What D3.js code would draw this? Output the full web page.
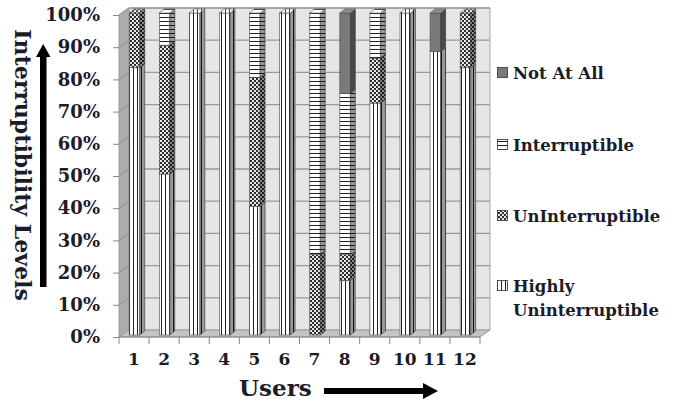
<!DOCTYPE html>
<meta charset="utf-8" />
<title>Interruptibility levels per user</title>
<style>
  body { margin: 0; background: #fff; }
  svg { display: block; }
  text { font-family: "DejaVu Serif", serif; font-weight: bold; fill: #1c1c28; }
</style>
<body>
<svg width="682" height="402"></svg>
<script src="https://d3js.org/d3.v7.min.js"></script>
<script>
  // chart data (percent of each user's responses)
  const users = ["1", "2", "3", "4", "5", "6", "7", "8", "9", "10", "11", "12"];
  const highlyUninterruptible = [83, 50, 100, 100, 40, 100, 0, 17, 72, 100, 88, 83];
  const unInterruptible = [17, 40, 0, 0, 40, 0, 25, 8, 14, 0, 0, 17];
  const interruptible = [0, 10, 0, 0, 20, 0, 75, 50, 14, 0, 0, 0];
  const notAtAll = [0, 0, 0, 0, 0, 0, 0, 25, 0, 0, 12, 0];
  const seriesNames = ["Highly Uninterruptible", "UnInterruptible", "Interruptible", "Not At All"];
  const yTicks = [0, 10, 20, 30, 40, 50, 60, 70, 80, 90, 100];

  const rows = users.map((u, i) => ({
    user: u,
    "Highly Uninterruptible": highlyUninterruptible[i],
    "UnInterruptible": unInterruptible[i],
    "Interruptible": interruptible[i],
    "Not At All": notAtAll[i]
  }));

  const svg = d3.select("svg");
  const defs = svg.append("defs");

  // fill patterns, one per series
  const pv = defs.append("pattern").attr("id", "p-hu").attr("patternUnits", "userSpaceOnUse")
    .attr("width", 4).attr("height", 4);
  pv.append("rect").attr("width", 4).attr("height", 4).attr("fill", "#fff");
  pv.append("rect").attr("x", 1).attr("width", 1).attr("height", 4).attr("fill", "#222");

  const pc = defs.append("pattern").attr("id", "p-un").attr("patternUnits", "userSpaceOnUse")
    .attr("width", 4).attr("height", 4);
  pc.append("rect").attr("width", 4).attr("height", 4).attr("fill", "#2e2e2e");
  pc.append("rect").attr("width", 2).attr("height", 2).attr("fill", "#e8e8e8");
  pc.append("rect").attr("x", 2).attr("y", 2).attr("width", 2).attr("height", 2).attr("fill", "#e8e8e8");

  const ph = defs.append("pattern").attr("id", "p-in").attr("patternUnits", "userSpaceOnUse")
    .attr("width", 4).attr("height", 4);
  ph.append("rect").attr("width", 4).attr("height", 4).attr("fill", "#fff");
  ph.append("rect").attr("y", 1).attr("width", 4).attr("height", 1).attr("fill", "#222");

  const fills = {
    "Highly Uninterruptible": "url(#p-hu)",
    "UnInterruptible": "url(#p-un)",
    "Interruptible": "url(#p-in)",
    "Not At All": "#7a7a7a"
  };

  // geometry of the pseudo 3D plot
  const x0 = 119, x1 = 480;
  const DX = 10, DY = -7;       // depth of walls / floor
  const BX = 5, BY = -4;        // depth of a bar

  const x = d3.scaleBand().domain(users).range([x0, x1]);
  const yFront = d3.scaleLinear().domain([0, 100]).range([337, 15]);
  const yBack = v => yFront(v) + DY;
  const yBar = v => yFront(v) - 2;

  const pts = p => p.map(d => d.join(",")).join(" ");

  // walls and floor
  svg.append("polygon")
    .attr("points", pts([[x0 + DX, yBack(0)], [x1 + DX, yBack(0)], [x1 + DX, yBack(100)], [x0 + DX, yBack(100)]]))
    .attr("fill", "#e6e6e6").attr("stroke", "#a6a6a6");
  svg.append("polygon")
    .attr("points", pts([[x0, yFront(0)], [x0 + DX, yBack(0)], [x0 + DX, yBack(100)], [x0, yFront(100)]]))
    .attr("fill", "#adadad").attr("stroke", "#9a9a9a");
  svg.append("polygon")
    .attr("points", pts([[x0, yFront(0)], [x1, yFront(0)], [x1 + DX, yBack(0)], [x0 + DX, yBack(0)]]))
    .attr("fill", "#c4c4c4").attr("stroke", "#9a9a9a");

  // gridlines
  const grid = svg.append("g").attr("stroke", "#999").attr("stroke-width", 1.3).attr("fill", "none");
  grid.selectAll(".gb").data(yTicks.slice(1)).join("line")
    .attr("x1", x0 + DX).attr("x2", x1 + DX)
    .attr("y1", d => yBack(d)).attr("y2", d => yBack(d));
  grid.selectAll(".gs").data(yTicks.slice(1)).join("line")
    .attr("x1", x0).attr("x2", x0 + DX)
    .attr("y1", d => yFront(d)).attr("y2", d => yBack(d));

  // stacked 3D bars
  const stack = d3.stack().keys(seriesNames)(rows);
  const bars = svg.append("g");
  const bw = 10.5;
  rows.forEach((r, i) => {
    const cx = x(r.user) + x.bandwidth() / 2;
    const xl = cx - 4.8, xr = xl + bw;
    let topKey = null, topVal = 0;
    stack.forEach(s => {
      const [a, b] = s[i];
      if (b - a <= 0) return;
      topKey = s.key; topVal = b;
      const f = fills[s.key];
      const g = bars.append("g").attr("stroke", "#4a4a4a").attr("stroke-width", 0.6);
      g.append("rect").attr("x", xl).attr("y", yBar(b)).attr("width", bw).attr("height", yBar(a) - yBar(b))
        .attr("fill", f);
      const side = [[xr, yBar(a)], [xr + BX, yBar(a) + BY], [xr + BX, yBar(b) + BY], [xr, yBar(b)]];
      g.append("polygon").attr("points", pts(side)).attr("fill", f);
      g.append("polygon").attr("points", pts(side)).attr("fill", "#000").attr("fill-opacity", 0.4).attr("stroke", "none");
    });
    if (topKey) {
      const top = [[xl, yBar(topVal)], [xr, yBar(topVal)], [xr + BX, yBar(topVal) + BY], [xl + BX, yBar(topVal) + BY]];
      bars.append("polygon").attr("points", pts(top)).attr("fill", fills[topKey])
        .attr("stroke", "#4a4a4a").attr("stroke-width", 0.6);
      bars.append("polygon").attr("points", pts(top)).attr("fill", "#fff").attr("fill-opacity", 0.15);
    }
  });

  // y axis
  const yAxis = svg.append("g").attr("transform", `translate(${x0},0)`)
    .call(d3.axisLeft(yFront).tickValues(yTicks).tickFormat(d => d + "%").tickSize(6).tickPadding(13));
  yAxis.select(".domain").remove();
  yAxis.selectAll(".tick line").attr("stroke", "#888");
  yAxis.selectAll(".tick text").attr("font-size", 18).attr("font-family", null).attr("fill", null);

  // x axis: boundary ticks + centered labels
  const xg = svg.append("g");
  xg.append("line").attr("x1", x0).attr("x2", x1).attr("y1", yFront(0)).attr("y2", yFront(0)).attr("stroke", "#888");
  xg.selectAll(".xt").data(users.map(u => x(u)).concat([x1])).join("line")
    .attr("x1", d => d).attr("x2", d => d).attr("y1", yFront(0)).attr("y2", yFront(0) + 7).attr("stroke", "#888");
  xg.selectAll(".xl").data(users).join("text")
    .attr("x", d => x(d) + x.bandwidth() / 2).attr("y", 365)
    .attr("text-anchor", "middle").attr("font-size", 17).text(d => d);

  // axis titles with arrows
  svg.append("text").attr("transform", "translate(15,165) rotate(90)")
    .attr("text-anchor", "middle").attr("font-size", 22).text("Interruptibility Levels");
  svg.append("rect").attr("x", 40).attr("y", 55).attr("width", 6.5).attr("height", 232).attr("fill", "#000");
  svg.append("polygon").attr("points", pts([[43.2, 44], [36, 57], [50.5, 57]])).attr("fill", "#000");

  svg.append("text").attr("x", 239).attr("y", 396).attr("font-size", 23).text("Users");
  svg.append("rect").attr("x", 324).attr("y", 388).attr("width", 100).attr("height", 6).attr("fill", "#000");
  svg.append("polygon").attr("points", pts([[438, 391], [423, 383], [423, 399]])).attr("fill", "#000");

  // legend
  const legendItems = [
    { key: "Not At All", lines: ["Not At All"], y: 79 },
    { key: "Interruptible", lines: ["Interruptible"], y: 151 },
    { key: "UnInterruptible", lines: ["UnInterruptible"], y: 222 },
    { key: "Highly Uninterruptible", lines: ["Highly", "Uninterruptible"], y: 292 }
  ];
  const lg = svg.append("g");
  legendItems.forEach(it => {
    lg.append("rect").attr("x", 497.5).attr("y", it.y - 11.5).attr("width", 10).attr("height", 10)
      .attr("fill", fills[it.key]).attr("stroke", "#333").attr("stroke-width", 0.8);
    const t = lg.append("text").attr("x", 513).attr("y", it.y).attr("font-size", 16.5);
    it.lines.forEach((l, j) => t.append("tspan").attr("x", 513).attr("dy", j ? 24 : 0).text(l));
  });
</script>
</body>
